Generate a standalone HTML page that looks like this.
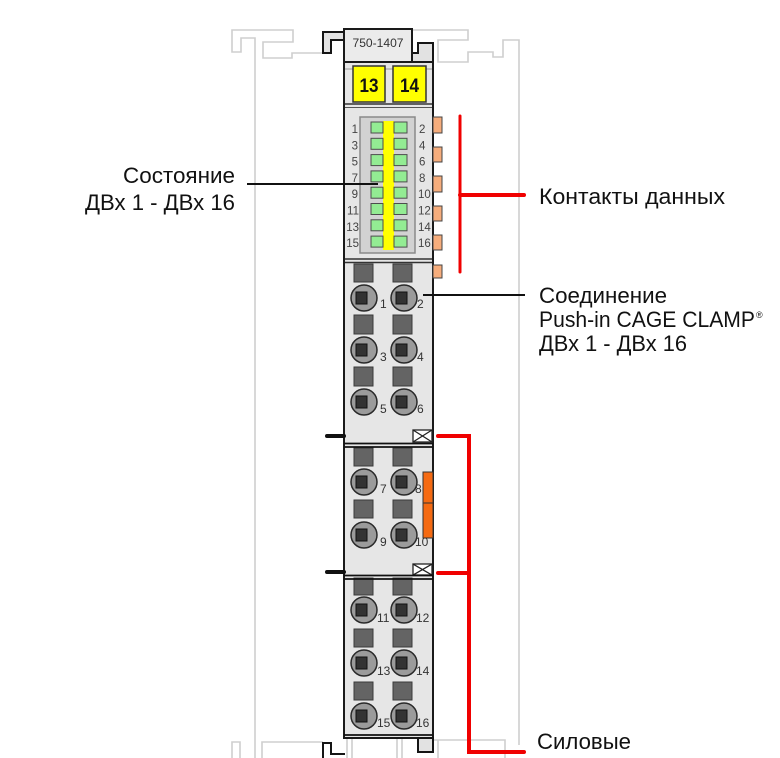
<!DOCTYPE html>
<html><head><meta charset="utf-8"><style>
html,body{margin:0;padding:0;background:#fff;}
svg{display:block;}
text{font-family:"Liberation Sans","Noto Sans CJK SC",sans-serif;}
</style></head><body>
<svg width="780" height="758" viewBox="0 0 780 758" xmlns="http://www.w3.org/2000/svg">
<rect width="780" height="758" fill="#fff"/>
<!-- background gray outlines -->
<g fill="none" stroke="#cfcfcf" stroke-width="1.6">
<path d="M255,758 V38 H241 V52 H232 V30 H293 V42 H263 V58 H292 V53 H323"/>
<path d="M413,30 H468 V40 H438 V62 H468 V52 H493 V57 H503 V40 H519 V745"/>
<path d="M232,758 V742 H240 V758"/>
<path d="M262,758 V742 H292 V742 H323"/>
<path d="M433,740 H505 V758"/>
<path d="M438,740 V758"/>
<path d="M347,738 V758 M352,738 V758 M397,738 V758 M402,738 V758"/>
</g>
<!-- top brackets -->
<path d="M323,32 H344 V40 H331 V53 H323 Z" fill="#e2e2e2" stroke="#151515" stroke-width="2"/>
<path d="M418,43 H433 V62 H412 V53 H418 Z" fill="#e2e2e2" stroke="#151515" stroke-width="2"/>
<!-- body -->
<rect x="344" y="62" width="89" height="676" fill="#e6e6e6" stroke="#1a1a1a" stroke-width="2"/>
<!-- label box -->
<rect x="344" y="29" width="68" height="33" fill="#ebebeb" stroke="#1a1a1a" stroke-width="2"/>
<text x="378" y="47" font-size="12" fill="#333" text-anchor="middle" textLength="51" lengthAdjust="spacingAndGlyphs">750-1407</text>
<!-- top section -->
<line x1="345" y1="69" x2="432" y2="69" stroke="#9a9a9a" stroke-width="1"/>
<rect x="353" y="66" width="32" height="36" fill="#ffff00" stroke="#333" stroke-width="1.5"/>
<rect x="393" y="66" width="33" height="36" fill="#ffff00" stroke="#333" stroke-width="1.5"/>
<text x="369" y="92" font-size="19" font-weight="bold" fill="#111" text-anchor="middle" textLength="19" lengthAdjust="spacingAndGlyphs">13</text>
<text x="409.5" y="92" font-size="19" font-weight="bold" fill="#111" text-anchor="middle" textLength="19" lengthAdjust="spacingAndGlyphs">14</text>
<line x1="345" y1="104" x2="432" y2="104" stroke="#333" stroke-width="1.5"/>
<line x1="345" y1="107.5" x2="432" y2="107.5" stroke="#555" stroke-width="1"/>
<!-- LED panel -->
<rect x="360" y="117" width="55" height="136" fill="#d2d2d2" stroke="#8a8a8a" stroke-width="1.5"/>
<rect x="383" y="121" width="11" height="129" fill="#ffff00"/>
<g fill="#93ec93" stroke="#4d4d4d" stroke-width="1">
<rect x="371" y="122" width="12" height="11"/><rect x="394" y="122" width="13" height="11"/>
<rect x="371" y="138.3" width="12" height="11"/><rect x="394" y="138.3" width="13" height="11"/>
<rect x="371" y="154.6" width="12" height="11"/><rect x="394" y="154.6" width="13" height="11"/>
<rect x="371" y="170.9" width="12" height="11"/><rect x="394" y="170.9" width="13" height="11"/>
<rect x="371" y="187.2" width="12" height="11"/><rect x="394" y="187.2" width="13" height="11"/>
<rect x="371" y="203.5" width="12" height="11"/><rect x="394" y="203.5" width="13" height="11"/>
<rect x="371" y="219.8" width="12" height="11"/><rect x="394" y="219.8" width="13" height="11"/>
<rect x="371" y="236.1" width="12" height="11"/><rect x="394" y="236.1" width="13" height="11"/>
</g>
<g font-size="11.5" fill="#444">
<g text-anchor="end">
<text x="358" y="133">1</text><text x="358" y="149.3">3</text><text x="358" y="165.6">5</text><text x="358" y="181.9">7</text>
<text x="358" y="198.2">9</text><text x="359" y="214.5">11</text><text x="359" y="230.8">13</text><text x="359" y="247.1">15</text>
</g>
<text x="419" y="133">2</text><text x="419" y="149.3">4</text><text x="419" y="165.6">6</text><text x="419" y="181.9">8</text>
<text x="418" y="198.2">10</text><text x="418" y="214.5">12</text><text x="418" y="230.8">14</text><text x="418" y="247.1">16</text>
</g>
<!-- orange tabs -->
<g fill="#f6ad7c" stroke="#444" stroke-width="1">
<rect x="433" y="117" width="9" height="16"/>
<rect x="433" y="147" width="9" height="15"/>
<rect x="433" y="176" width="9" height="16"/>
<rect x="433" y="206" width="9" height="15"/>
<rect x="433" y="235" width="9" height="15"/>
<rect x="433" y="265" width="9" height="13"/>
</g>
<line x1="345" y1="259" x2="432" y2="259" stroke="#333" stroke-width="1.5"/>
<line x1="345" y1="262.5" x2="432" y2="262.5" stroke="#333" stroke-width="1.5"/>
<!-- release squares -->
<g fill="#646464" stroke="#3a3a3a" stroke-width="1">
<rect x="354" y="264" width="19" height="18"/><rect x="393" y="264" width="19" height="18"/>
<rect x="354" y="315" width="19" height="19"/><rect x="393" y="315" width="19" height="19"/>
<rect x="354" y="367" width="19" height="19"/><rect x="393" y="367" width="19" height="19"/>
<rect x="354" y="448" width="19" height="18"/><rect x="393" y="448" width="19" height="18"/>
<rect x="354" y="500" width="19" height="18"/><rect x="393" y="500" width="19" height="18"/>
<rect x="354" y="578" width="19" height="17"/><rect x="393" y="578" width="19" height="17"/>
<rect x="354" y="629" width="19" height="18"/><rect x="393" y="629" width="19" height="18"/>
<rect x="354" y="682" width="19" height="18"/><rect x="393" y="682" width="19" height="18"/>
</g>
<!-- orange bar -->
<rect x="423" y="472" width="10" height="66" fill="#f56a12" stroke="#333" stroke-width="1"/>
<line x1="423" y1="503" x2="433" y2="503" stroke="#333" stroke-width="1"/>
<!-- clamp circles -->
<g stroke="#2a2a2a" stroke-width="1.5" fill="#9b9b9b">
<circle cx="364" cy="298" r="13"/><circle cx="404" cy="298" r="13"/>
<circle cx="364" cy="350" r="13"/><circle cx="404" cy="350" r="13"/>
<circle cx="364" cy="402" r="13"/><circle cx="404" cy="402" r="13"/>
<circle cx="364" cy="482" r="13"/><circle cx="404" cy="482" r="13"/>
<circle cx="364" cy="535" r="13"/><circle cx="404" cy="535" r="13"/>
<circle cx="364" cy="610" r="13"/><circle cx="404" cy="610" r="13"/>
<circle cx="364" cy="663" r="13"/><circle cx="404" cy="663" r="13"/>
<circle cx="364" cy="716" r="13"/><circle cx="404" cy="716" r="13"/>
</g>
<g fill="#333" stroke="#111" stroke-width="1">
<rect x="356" y="292" width="11" height="12"/><rect x="396" y="292" width="11" height="12"/>
<rect x="356" y="344" width="11" height="12"/><rect x="396" y="344" width="11" height="12"/>
<rect x="356" y="396" width="11" height="12"/><rect x="396" y="396" width="11" height="12"/>
<rect x="356" y="476" width="11" height="12"/><rect x="396" y="476" width="11" height="12"/>
<rect x="356" y="529" width="11" height="12"/><rect x="396" y="529" width="11" height="12"/>
<rect x="356" y="604" width="11" height="12"/><rect x="396" y="604" width="11" height="12"/>
<rect x="356" y="657" width="11" height="12"/><rect x="396" y="657" width="11" height="12"/>
<rect x="356" y="710" width="11" height="12"/><rect x="396" y="710" width="11" height="12"/>
</g>
<g font-size="12" fill="#333">
<text x="380" y="308">1</text><text x="417" y="308">2</text>
<text x="380" y="361">3</text><text x="417" y="361">4</text>
<text x="380" y="413">5</text><text x="417" y="413">6</text>
<text x="380" y="493">7</text><text x="415" y="493">8</text>
<text x="380" y="546">9</text><text x="415" y="546">10</text>
<text x="377" y="622">11</text><text x="416" y="622">12</text>
<text x="377" y="675">13</text><text x="416" y="675">14</text>
<text x="377" y="727">15</text><text x="416" y="727">16</text>
</g>
<!-- X boxes and separators -->
<g fill="#fff" stroke="#222" stroke-width="1.3">
<rect x="413" y="430" width="19" height="12"/>
<path d="M413,430 L432,442 M432,430 L413,442" fill="none"/>
<rect x="413" y="564" width="19" height="11"/>
<path d="M413,564 L432,575 M432,564 L413,575" fill="none"/>
</g>
<g stroke="#111" stroke-width="1.8">
<line x1="344" y1="443.5" x2="433" y2="443.5"/>
<line x1="344" y1="447" x2="433" y2="447"/>
<line x1="344" y1="575.5" x2="433" y2="575.5"/>
<line x1="344" y1="579" x2="433" y2="579"/>
<line x1="344" y1="735" x2="433" y2="735"/>
</g>
<line x1="327" y1="436" x2="344" y2="436" stroke="#111" stroke-width="4" stroke-linecap="round"/>
<line x1="327" y1="572" x2="344" y2="572" stroke="#111" stroke-width="4" stroke-linecap="round"/>
<!-- bottom brackets -->
<path d="M323,758 V743 H331 V754 H345" fill="none" stroke="#151515" stroke-width="2"/>
<rect x="418" y="738" width="15" height="14" fill="#e2e2e2" stroke="#151515" stroke-width="2"/>
<!-- leader lines -->
<line x1="247" y1="184" x2="378" y2="184" stroke="#111" stroke-width="2"/>
<line x1="423" y1="295" x2="525" y2="295" stroke="#111" stroke-width="2"/>
<g stroke="#f00000" fill="none" stroke-linecap="round">
<line x1="460" y1="116" x2="460" y2="272" stroke-width="3"/>
<line x1="460" y1="195" x2="524" y2="195" stroke-width="4"/>
<path d="M438,436 H469 V752 H524" stroke-width="4" stroke-linejoin="miter"/>
<line x1="438" y1="573" x2="469" y2="573" stroke-width="4"/>
</g>
<!-- labels -->
<g font-size="22" fill="#111">
<text x="235" y="183" text-anchor="end" textLength="112" lengthAdjust="spacingAndGlyphs">Состояние</text>
<text x="235" y="210" text-anchor="end" textLength="150" lengthAdjust="spacingAndGlyphs">ДВх 1 - ДВх 16</text>
<text x="539" y="204" textLength="186" lengthAdjust="spacingAndGlyphs">Контакты данных</text>
<text x="539" y="303" textLength="128" lengthAdjust="spacingAndGlyphs">Соединение</text>
<text x="539" y="327" textLength="216" lengthAdjust="spacingAndGlyphs">Push-in CAGE CLAMP</text>
<text x="539" y="351" textLength="148" lengthAdjust="spacingAndGlyphs">ДВх 1 - ДВх 16</text>
<text x="537" y="749" textLength="94" lengthAdjust="spacingAndGlyphs">Силовые</text>
</g>
<text x="756" y="318" font-size="9" fill="#111">®</text>
</svg>
</body></html>
